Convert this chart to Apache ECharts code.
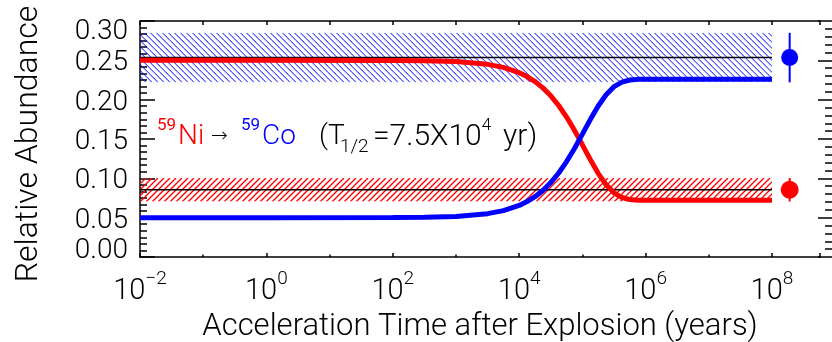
<!DOCTYPE html>
<html>
<head>
<meta charset="utf-8">
<script src="https://cdn.jsdelivr.net/npm/echarts@6/dist/echarts.min.js"></script>
<style>
html, body { margin: 0; padding: 0; background: #fff; }
#chart { width: 832px; height: 342px; }
</style>
</head>
<body>
<div id="chart"></div>
<script>
// x is log10 of the acceleration time in years
const logYears = [-2, 0, 2, 2.5, 3, 3.5, 3.75, 4, 4.125, 4.25, 4.375, 4.5, 4.625, 4.75, 4.875, 5, 5.125, 5.25, 5.375, 5.5, 5.625, 5.75, 5.875, 6, 8];
const ni59 = [0.250, 0.250, 0.2498, 0.2495, 0.2484, 0.2449, 0.2410, 0.2343, 0.2294, 0.2230, 0.2150, 0.2049, 0.1926, 0.1779, 0.1610, 0.1426, 0.1239, 0.1064, 0.0919, 0.0816, 0.0756, 0.0730, 0.0722, 0.0720, 0.0720];
const co59 = [0.050, 0.050, 0.0502, 0.0505, 0.0516, 0.0551, 0.0589, 0.0655, 0.0704, 0.0767, 0.0846, 0.0946, 0.1068, 0.1213, 0.1380, 0.1562, 0.1747, 0.1920, 0.2063, 0.2165, 0.2224, 0.2250, 0.2258, 0.2260, 0.2260];
const xTickExps = [-2, 0, 2, 4, 6, 8];
const bandRange = [-2, 8];

// measured abundances with errors
const obsLogYears = 8.28;
const coObs = 0.2535, coErr = 0.0315;
const niObs = 0.0855, niErr = 0.015;

const FONT = 'Roboto';
const HATCH_STEP = 6;
const BLUE = '#0000ff', RED = '#ff0000';

const zip = (xs, ys) => xs.map((x, i) => [x, ys[i]]);

// both hatched bands in one custom series: [x0, y0, x1, y1, kind]
const bandRows = [
    [bandRange[0], coObs - coErr, bandRange[1], coObs + coErr, 0],
    [bandRange[0], niObs - niErr, bandRange[1], niObs + niErr, 1]
];
const bandLook = [
    { color: BLUE, up: false, width: 1 },
    { color: RED, up: true, width: 1.3 }
];

function renderBand(params, api) {
    const look = bandLook[api.value(4)];
    const p0 = api.coord([api.value(0), api.value(3)]);
    const p1 = api.coord([api.value(2), api.value(1)]);
    const x = p0[0], y = p0[1], w = p1[0] - p0[0], h = p1[1] - p0[1];
    let d = '';
    for (let sx = x - h; sx < x + w + h; sx += HATCH_STEP) {
        d += look.up
            ? 'M' + sx + ' ' + (y + h) + 'L' + (sx + h) + ' ' + y
            : 'M' + sx + ' ' + y + 'L' + (sx + h) + ' ' + (y + h);
    }
    return {
        type: 'group',
        clipPath: { type: 'rect', shape: { x, y, width: w, height: h } },
        children: [{
            type: 'path',
            shape: { pathData: d },
            style: { stroke: look.color, fill: 'none', lineWidth: look.width, opacity: 1 }
        }]
    };
}

const chart = echarts.init(document.getElementById('chart'), null, { renderer: 'canvas' });

const axisBlack = { color: '#000', width: 1.5 };
const txt = { fontFamily: FONT, fontWeight: 300, color: '#000' };
const yBase = { type: 'value', min: 0, max: 0.30, interval: 0.05, splitLine: { show: false } };

const option = {
    animation: false,
    grid: { left: 140, right: 12, top: 21, bottom: 85, outerBoundsMode: 'none', containLabel: false },
    xAxis: [
        {
            type: 'value', position: 'bottom', min: -2, max: 8.76, interval: 2,
            axisLine: { show: true, onZero: false, lineStyle: axisBlack },
            axisTick: { inside: true, length: 4, lineStyle: axisBlack },
            minorTick: { show: true, splitNumber: 2, length: 2.5, lineStyle: axisBlack },
            splitLine: { show: false },
            axisLabel: {
                margin: 13, hideOverlap: false,
                formatter: v => xTickExps.indexOf(v) >= 0
                    ? '{b|10}{s|' + (v < 0 ? '\u2212' + (-v) : v) + '}' : '',
                rich: {
                    b: Object.assign({ fontSize: 29, lineHeight: 44 }, txt),
                    s: Object.assign({ fontSize: 19, lineHeight: 18, verticalAlign: 'top' }, txt)
                }
            },
            name: 'Acceleration Time after Explosion (years)',
            nameLocation: 'middle', nameGap: 52,
            nameTextStyle: Object.assign({ fontSize: 31 }, txt)
        },
        {
            type: 'value', position: 'top', min: -2, max: 8.76, interval: 2,
            axisLine: { show: true, onZero: false, lineStyle: axisBlack },
            axisTick: { inside: true, length: 4, lineStyle: axisBlack },
            minorTick: { show: true, splitNumber: 2, length: 4, lineStyle: axisBlack },
            splitLine: { show: false },
            axisLabel: { show: false }
        }
    ],
    yAxis: [
        Object.assign({
            position: 'left',
            axisLine: { show: true, onZero: false, lineStyle: axisBlack },
            axisTick: { inside: true, length: 15, lineStyle: axisBlack },
            minorTick: { show: true, splitNumber: 6, length: 7, lineStyle: axisBlack },
            // inner labels here, the two end labels sit on the helper axis below
            axisLabel: Object.assign({
                margin: 12, fontSize: 28, lineHeight: 10,
                showMinLabel: false, showMaxLabel: false, hideOverlap: false,
                formatter: v => '{m|' + v.toFixed(2) + '}',
                rich: { m: Object.assign({ fontSize: 28, lineHeight: 10, padding: [6, 0, 0, 0] }, txt) }
            }, txt),
            name: 'Relative Abundance',
            nameLocation: 'middle', nameGap: 95, nameRotate: 90,
            nameTextStyle: Object.assign({ fontSize: 32, padding: [0, 10, 0, 0] }, txt)
        }, yBase),
        Object.assign({
            position: 'right', offset: 12,
            axisLine: { show: false, onZero: false },
            axisTick: { show: true, inside: true, length: 14, lineStyle: axisBlack },
            minorTick: { show: true, splitNumber: 5, length: 7, lineStyle: axisBlack },
            axisLabel: { show: false }
        }, yBase),
        Object.assign({
            position: 'left',
            axisLine: { show: false, onZero: false },
            axisTick: { show: false },
            axisLabel: Object.assign({
                margin: 12, fontSize: 28, lineHeight: 10,
                showMinLabel: true, showMaxLabel: true, hideOverlap: false,
                formatter: v => v < 0.001 ? '{lo|0.00}' : v > 0.299 ? '{hi|0.30}' : '',
                rich: {
                    lo: Object.assign({ fontSize: 28, lineHeight: 10, padding: [0, 0, 12, 0] }, txt),
                    hi: Object.assign({ fontSize: 28, lineHeight: 10, padding: [22, 0, 0, 0] }, txt)
                }
            }, txt)
        }, yBase)
    ],
    graphic: [{
        type: 'text', left: 157, top: 117, silent: true,
        style: {
            text: '{nis|59}{ni|Ni}{ar|\u2192}{cos|59}{co|Co}{t|(T}{sub|1/2}{t2|=7.5X10}{sup|4}{t3| yr)}',
            rich: {
                nis: { fontFamily: FONT, fontSize: 17, lineHeight: 18, width: 21, verticalAlign: 'top', fill: RED },
                ni: { fontFamily: FONT, fontWeight: 300, fontSize: 28, lineHeight: 40, width: 33, fill: RED },
                ar: { fontFamily: 'DejaVu Sans', fontWeight: 300, fontSize: 20, lineHeight: 40, width: 30, fill: '#000' },
                cos: { fontFamily: FONT, fontSize: 17, lineHeight: 18, width: 21, verticalAlign: 'top', fill: BLUE },
                co: { fontFamily: FONT, fontWeight: 300, fontSize: 28, lineHeight: 40, width: 57, fill: BLUE },
                t: { fontFamily: FONT, fontWeight: 300, fontSize: 28, lineHeight: 40, width: 21, fill: '#000' },
                sub: { fontFamily: FONT, fontWeight: 300, fontSize: 19, lineHeight: 18, width: 33, verticalAlign: 'bottom', fill: '#000' },
                t2: { fontFamily: FONT, fontWeight: 300, fontSize: 30, lineHeight: 40, fill: '#000' },
                sup: { fontFamily: FONT, fontWeight: 300, fontSize: 17, lineHeight: 18, width: 14, verticalAlign: 'top', fill: '#000' },
                t3: { fontFamily: FONT, fontWeight: 300, fontSize: 30, lineHeight: 40, fill: '#000' }
            }
        }
    }],
    series: [
        {
            name: 'Observed bands', type: 'custom', silent: true, z: 1,
            data: bandRows,
            renderItem: renderBand
        },
        {
            name: 'Co observed', type: 'line', symbol: 'none', silent: true, z: 3,
            data: zip(bandRange, [coObs, coObs]),
            lineStyle: { color: '#000', width: 1.5 }
        },
        {
            name: 'Ni observed', type: 'line', symbol: 'none', silent: true, z: 3,
            data: zip(bandRange, [niObs, niObs]),
            lineStyle: { color: '#000', width: 1.5 }
        },
        {
            name: '59Ni', type: 'line', symbol: 'none', z: 4,
            data: zip(logYears, ni59),
            lineStyle: { color: RED, width: 5 }
        },
        {
            name: '59Co', type: 'line', symbol: 'none', z: 4,
            data: zip(logYears, co59),
            lineStyle: { color: BLUE, width: 5 }
        },
        {
            name: 'Co error', type: 'line', symbol: 'none', z: 5,
            data: [[obsLogYears, coObs - coErr], [obsLogYears, coObs + coErr]],
            lineStyle: { color: BLUE, width: 2 }
        },
        {
            name: 'Ni error', type: 'line', symbol: 'none', z: 5,
            data: [[obsLogYears, niObs - niErr], [obsLogYears, niObs + niErr]],
            lineStyle: { color: RED, width: 2 }
        },
        {
            name: 'Co point', type: 'scatter', symbol: 'circle', symbolSize: 17, z: 6,
            data: [[obsLogYears, coObs]],
            itemStyle: { color: BLUE, opacity: 1 }
        },
        {
            name: 'Ni point', type: 'scatter', symbol: 'circle', symbolSize: 18, z: 6,
            data: [[obsLogYears, niObs]],
            itemStyle: { color: RED, opacity: 1 }
        }
    ]
};

chart.setOption(option);
</script>
</body>
</html>
